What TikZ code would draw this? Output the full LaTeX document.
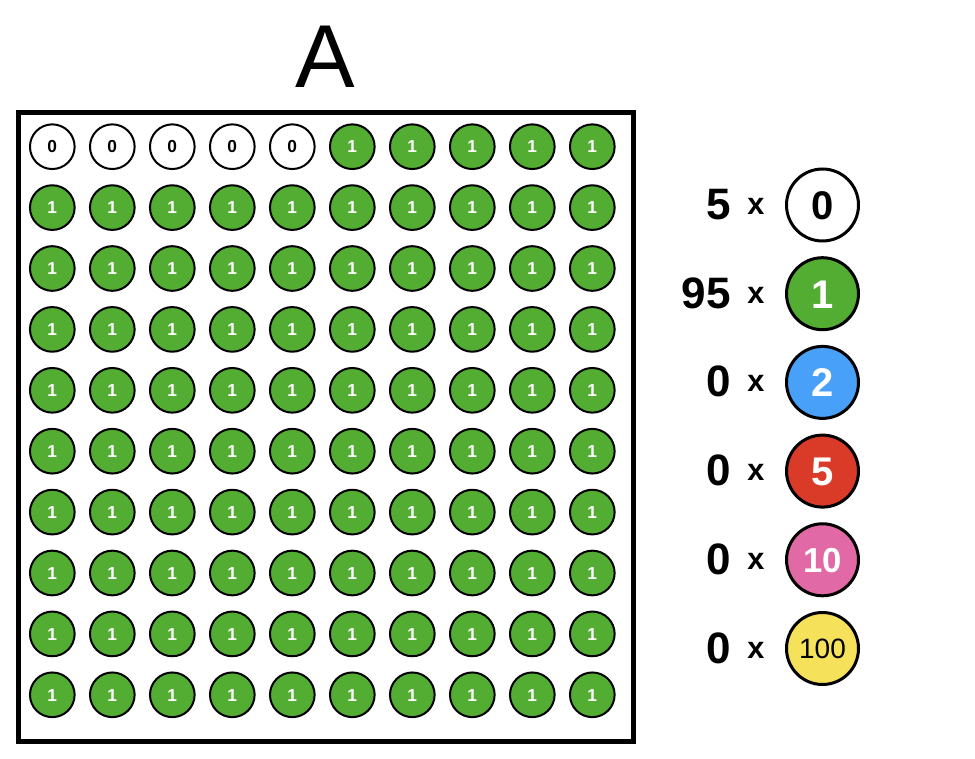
\documentclass[tikz,border=0pt]{standalone}
\usepackage{fontspec}
\setmainfont{Liberation Sans}
\definecolor{cgreen}{RGB}{83,173,51}
\definecolor{cblue}{RGB}{72,160,248}
\definecolor{cred}{RGB}{218,59,40}
\definecolor{cpink}{RGB}{224,105,166}
\definecolor{cyellow}{RGB}{246,225,90}
\begin{document}
\begin{tikzpicture}[x=0.75pt,y=-0.75pt,
  smalldot/.style={circle,draw=black,line width=1.5pt,minimum size=33.5pt,inner sep=0pt,
    font=\bfseries\fontsize{13}{13}\selectfont,text height=9.3pt,text depth=0pt},
  zerodot/.style={smalldot,fill=white,text=black},
  onedot/.style={smalldot,fill=cgreen,text=white},
  bigdot/.style={circle,draw=black,line width=2.25pt,minimum size=54pt,inner sep=0pt,
    text depth=0pt,text=white},
  bigfont/.style={font=\bfseries\fontsize{30}{30}\selectfont,text height=21.5pt},
  countlbl/.style={anchor=base east,inner sep=0pt,font=\bfseries\fontsize{33}{33}\selectfont},
  timeslbl/.style={anchor=base,inner sep=0pt,font=\bfseries\fontsize{23}{23}\selectfont}]
\useasboundingbox (0,0) rectangle (975,759);
\node[anchor=base,inner sep=0pt,font=\fontsize{67}{67}\selectfont] (title) at (325.5,88) {A};
\draw[line width=3.75pt] (18,113) rectangle (633.5,741.5);
\foreach \j in {0,...,9}{
  \foreach \i in {0,...,9}{
    \pgfmathsetmacro{\cx}{52.3+60*\i}
    \pgfmathsetmacro{\cy}{146.7+60.9*\j}
    \pgfmathtruncatemacro{\isz}{(\j==0)&&(\i<5)}
    \ifnum\isz=1
      \node[zerodot] (c-\j-\i) at (\cx,\cy) {0};
    \else
      \node[onedot] (c-\j-\i) at (\cx,\cy) {1};
    \fi
  }
}
% legend
\node[bigdot,bigfont,fill=white,text=black] (L0) at (822.5,205) {0};
\node[bigdot,bigfont,fill=cgreen] (L1) at (822.5,293.7) {1};
\node[bigdot,bigfont,fill=cblue] (L2) at (822.5,382.4) {2};
\node[bigdot,bigfont,fill=cred] (L5) at (822.5,471.1) {5};
\node[bigdot,fill=cpink,font=\bfseries\fontsize{26}{26}\selectfont,text height=18.6pt] (L10) at (822.5,559.8) {10};
\node[bigdot,fill=cyellow,text=black,font=\fontsize{21}{21}\selectfont,text height=15pt] (L100) at (822.5,648.5) {100};
\foreach \n/\v/\yy in {0/5/205,1/95/293.7,2/0/382.4,5/0/471.1,10/0/559.8,100/0/648.5}{
  \node[countlbl] (n\n) at (731,\yy+14.5) {\v};
  \node[timeslbl] (x\n) at (756,\yy+9.5) {x};
}
\end{tikzpicture}
\end{document}
